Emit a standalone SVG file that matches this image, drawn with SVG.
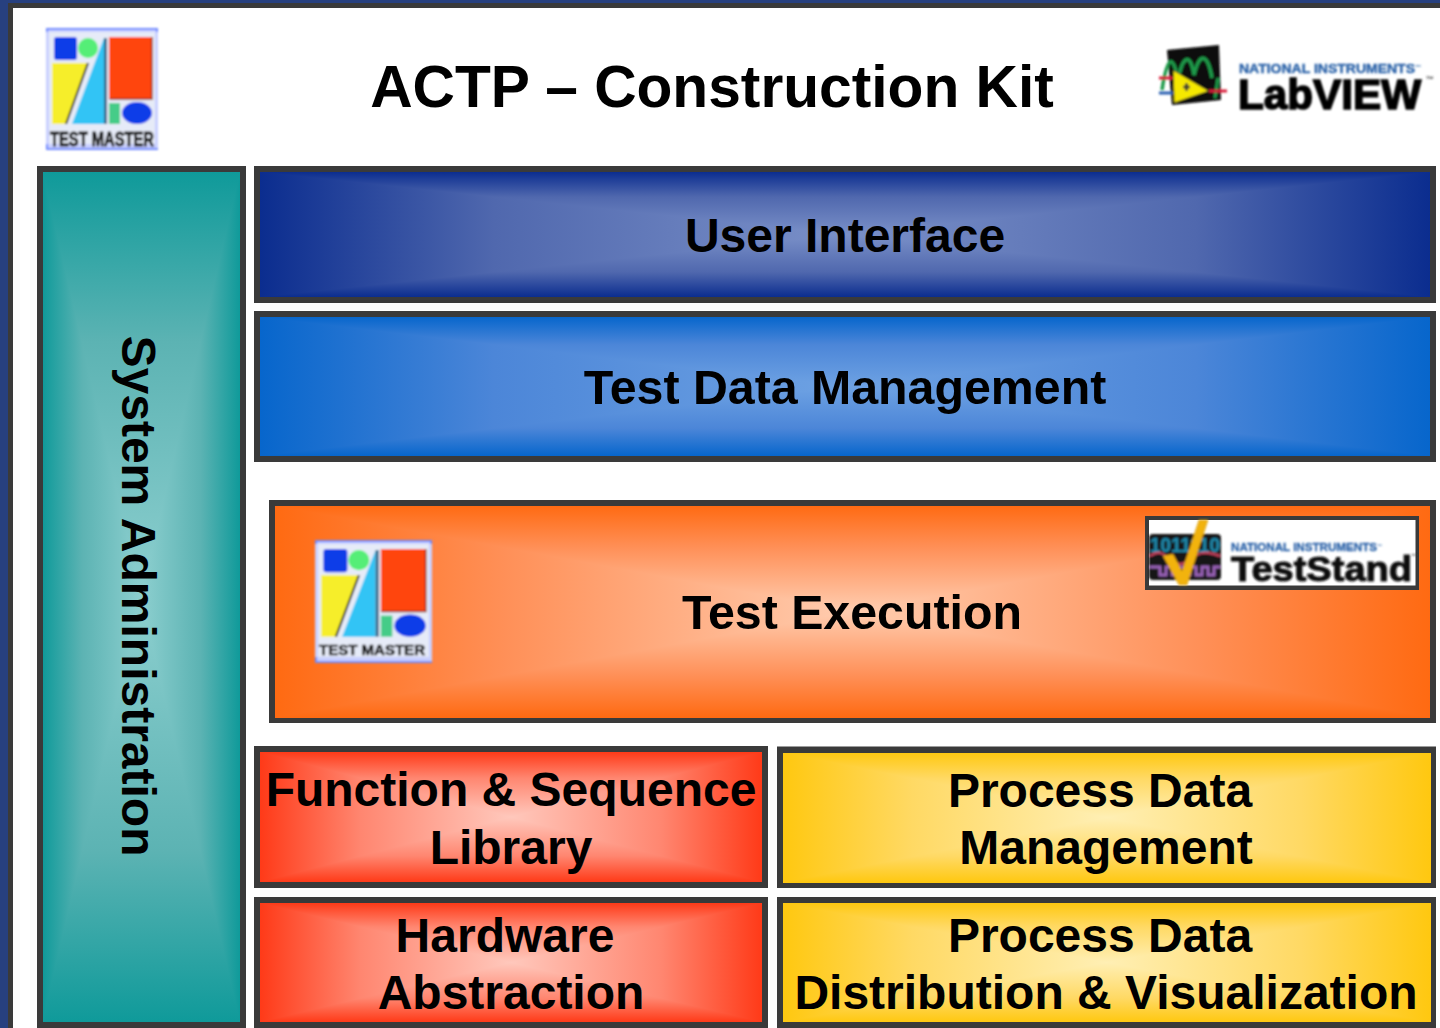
<svg xmlns="http://www.w3.org/2000/svg" width="1440" height="1028" viewBox="0 0 1440 1028">
<style>
.lbl{font-family:"Liberation Sans",Arial,sans-serif;font-weight:700;fill:#000;text-anchor:middle;font-size:48px}
.frame{fill:#3a3a3a}
.lg{font-family:"Liberation Sans",Arial,sans-serif;font-weight:700}
</style>
<defs>
<filter id="soft" x="-5%" y="-5%" width="110%" height="110%"><feGaussianBlur stdDeviation="0.8"/></filter>
<linearGradient id="ui-v" x1="0" y1="0" x2="0" y2="1"><stop offset="0" stop-color="#0b2d8f"/><stop offset=".4" stop-color="#5068ae"/><stop offset="1" stop-color="#7a90c8"/></linearGradient>
<linearGradient id="ui-h" x1="0" y1="0" x2="1" y2="0"><stop offset="0" stop-color="#0b2d8f"/><stop offset=".4" stop-color="#5068ae"/><stop offset="1" stop-color="#7a90c8"/></linearGradient>
<linearGradient id="td-v" x1="0" y1="0" x2="0" y2="1"><stop offset="0" stop-color="#0766cc"/><stop offset=".4" stop-color="#4c86d8"/><stop offset="1" stop-color="#6ea2e3"/></linearGradient>
<linearGradient id="td-h" x1="0" y1="0" x2="1" y2="0"><stop offset="0" stop-color="#0766cc"/><stop offset=".4" stop-color="#4c86d8"/><stop offset="1" stop-color="#6ea2e3"/></linearGradient>
<linearGradient id="or-v" x1="0" y1="0" x2="0" y2="1"><stop offset="0" stop-color="#ff6a12"/><stop offset=".4" stop-color="#ff9058"/><stop offset="1" stop-color="#ffcdb0"/></linearGradient>
<linearGradient id="or-h" x1="0" y1="0" x2="1" y2="0"><stop offset="0" stop-color="#ff6a12"/><stop offset=".4" stop-color="#ff9058"/><stop offset="1" stop-color="#ffcdb0"/></linearGradient>
<linearGradient id="rd-v" x1="0" y1="0" x2="0" y2="1"><stop offset="0" stop-color="#ff3a18"/><stop offset=".4" stop-color="#ff8670"/><stop offset="1" stop-color="#ffc8bc"/></linearGradient>
<linearGradient id="rd-h" x1="0" y1="0" x2="1" y2="0"><stop offset="0" stop-color="#ff3a18"/><stop offset=".4" stop-color="#ff8670"/><stop offset="1" stop-color="#ffc8bc"/></linearGradient>
<linearGradient id="ye-v" x1="0" y1="0" x2="0" y2="1"><stop offset="0" stop-color="#ffc810"/><stop offset=".4" stop-color="#ffd964"/><stop offset="1" stop-color="#ffefb4"/></linearGradient>
<linearGradient id="ye-h" x1="0" y1="0" x2="1" y2="0"><stop offset="0" stop-color="#ffc810"/><stop offset=".4" stop-color="#ffd964"/><stop offset="1" stop-color="#ffefb4"/></linearGradient>
<linearGradient id="te-v" x1="0" y1="0" x2="0" y2="1"><stop offset="0" stop-color="#0f9a9a"/><stop offset=".4" stop-color="#5cb3b3"/><stop offset="1" stop-color="#8dcfcf"/></linearGradient>
<linearGradient id="te-h" x1="0" y1="0" x2="1" y2="0"><stop offset="0" stop-color="#0f9a9a"/><stop offset=".4" stop-color="#5cb3b3"/><stop offset="1" stop-color="#8dcfcf"/></linearGradient>
<g id="f-ui" shape-rendering="crispEdges"><rect width="1" height="1" fill="#5068ae"/><polygon points="0,0 1,0 .5,.5" fill="url(#ui-v)"/><polygon points="0,0 1,0 .5,.5" fill="url(#ui-v)" transform="matrix(1 0 0 -1 0 1)"/><polygon points="0,0 0,1 .5,.5" fill="url(#ui-h)"/><polygon points="0,0 0,1 .5,.5" fill="url(#ui-h)" transform="matrix(-1 0 0 1 1 0)"/></g>
<g id="f-td" shape-rendering="crispEdges"><rect width="1" height="1" fill="#4c86d8"/><polygon points="0,0 1,0 .5,.5" fill="url(#td-v)"/><polygon points="0,0 1,0 .5,.5" fill="url(#td-v)" transform="matrix(1 0 0 -1 0 1)"/><polygon points="0,0 0,1 .5,.5" fill="url(#td-h)"/><polygon points="0,0 0,1 .5,.5" fill="url(#td-h)" transform="matrix(-1 0 0 1 1 0)"/></g>
<g id="f-or" shape-rendering="crispEdges"><rect width="1" height="1" fill="#ff9058"/><polygon points="0,0 1,0 .5,.5" fill="url(#or-v)"/><polygon points="0,0 1,0 .5,.5" fill="url(#or-v)" transform="matrix(1 0 0 -1 0 1)"/><polygon points="0,0 0,1 .5,.5" fill="url(#or-h)"/><polygon points="0,0 0,1 .5,.5" fill="url(#or-h)" transform="matrix(-1 0 0 1 1 0)"/></g>
<g id="f-rd" shape-rendering="crispEdges"><rect width="1" height="1" fill="#ff8670"/><polygon points="0,0 1,0 .5,.5" fill="url(#rd-v)"/><polygon points="0,0 1,0 .5,.5" fill="url(#rd-v)" transform="matrix(1 0 0 -1 0 1)"/><polygon points="0,0 0,1 .5,.5" fill="url(#rd-h)"/><polygon points="0,0 0,1 .5,.5" fill="url(#rd-h)" transform="matrix(-1 0 0 1 1 0)"/></g>
<g id="f-ye" shape-rendering="crispEdges"><rect width="1" height="1" fill="#ffd964"/><polygon points="0,0 1,0 .5,.5" fill="url(#ye-v)"/><polygon points="0,0 1,0 .5,.5" fill="url(#ye-v)" transform="matrix(1 0 0 -1 0 1)"/><polygon points="0,0 0,1 .5,.5" fill="url(#ye-h)"/><polygon points="0,0 0,1 .5,.5" fill="url(#ye-h)" transform="matrix(-1 0 0 1 1 0)"/></g>
<g id="f-te" shape-rendering="crispEdges"><rect width="1" height="1" fill="#5cb3b3"/><polygon points="0,0 1,0 .5,.5" fill="url(#te-v)"/><polygon points="0,0 1,0 .5,.5" fill="url(#te-v)" transform="matrix(1 0 0 -1 0 1)"/><polygon points="0,0 0,1 .5,.5" fill="url(#te-h)"/><polygon points="0,0 0,1 .5,.5" fill="url(#te-h)" transform="matrix(-1 0 0 1 1 0)"/></g>
<g id="tm-shapes">
<rect x="0" y="0" width="112" height="122" fill="#c9d0ff"/>
<rect x="3" y="4" width="106" height="112" fill="#e6ebf8"/>
<path d="M0 1H112M1 0V4M111 0V4M1 116V122M0 121H112" fill="none" stroke="#6f8bff" stroke-width="2"/>
<rect x="8" y="9" width="23" height="23" rx="3" fill="#0a3ce8"/>
<circle cx="42" cy="20" r="10" fill="#55ee77"/>
<polygon points="6,35 42,35 20,96 6,96" fill="#f6ee2a"/>
<polyline points="42,35 20,96" fill="none" stroke="#222" stroke-width="2"/>
<polygon points="26,96 58,10 58,96" fill="#33c4f5"/>
<rect x="58" y="10" width="3" height="86" fill="#3a6a8a"/>
<rect x="63" y="9" width="43" height="62" fill="#ff4410"/>
<path d="M63.500 71H106V9" fill="none" stroke="#8a3018" stroke-width="1.500"/>
<rect x="63" y="75" width="11" height="21" fill="#44cc88"/>
<ellipse cx="91" cy="85" rx="15" ry="11" fill="#0a3ce8"/>
</g>
</defs>

<rect id="background" width="1440" height="1028" fill="#fff"/>
<g id="page-frame">
<rect width="1440" height="3" fill="#27407f"/><rect width="8" height="1028" fill="#27407f"/>
<rect x="8" y="3" width="1432" height="5" class="frame"/><rect x="8" y="3" width="5" height="1025" class="frame"/>
</g>

<g id="logo-testmaster-top" filter="url(#soft)">
<use href="#tm-shapes" transform="translate(46,28)"/>
<text class="lg" x="102" y="146" text-anchor="middle" font-size="20" textLength="104" lengthAdjust="spacingAndGlyphs" fill="#111" stroke="#111" stroke-width=".8">TEST MASTER</text>
</g>

<text id="title" class="lbl" x="712" y="107" style="font-size:58.700px">ACTP – Construction Kit</text>

<g id="logo-labview" filter="url(#soft)">
<polygon points="1167,50 1219,45 1221,100 1172,105" fill="#0a0a0a"/>
<path d="M1162 90C1168 50 1174 58 1178 80C1182 58 1190 50 1194 75C1200 50 1208 55 1212 78" fill="none" stroke="#1f9a4a" stroke-width="3.500"/>
<path d="M1218 78L1215 98" fill="none" stroke="#1f9a4a" stroke-width="3"/>
<polygon points="1173,70 1209,91 1174,103" fill="#f5e800" stroke="#222" stroke-width="1"/>
<path d="M1159 78H1173M1209 91H1227" fill="none" stroke="#d81e3a" stroke-width="3"/>
<path d="M1159 93H1173" fill="none" stroke="#2a5fb0" stroke-width="3"/>
<path d="M1183 87H1190M1186.500 83V91" stroke="#333" stroke-width="2.500"/>
<text class="lg" x="1239" y="73" font-size="13" textLength="176" lengthAdjust="spacingAndGlyphs" fill="#2a62a8" stroke="#2a62a8" stroke-width=".4">NATIONAL INSTRUMENTS</text>
<text class="lg" x="1415" y="69" font-size="6" fill="#2a62a8">™</text>
<text class="lg" x="1238" y="109" font-size="43" textLength="183" lengthAdjust="spacingAndGlyphs" fill="#000" stroke="#000" stroke-width="1.600">LabVIEW</text>
<text class="lg" x="1426" y="82" font-size="8" fill="#333">™</text>
</g>

<g id="system-administration">
<rect class="frame" x="37" y="166" width="209" height="862"/>
<use href="#f-te" transform="translate(42.500,172) scale(197.500,850)"/>
<text class="lbl" transform="translate(122,596) rotate(90)" style="font-size:48px">System Administration</text>
</g>

<g id="user-interface">
<rect class="frame" x="254" y="166" width="1182" height="137"/>
<use href="#f-ui" transform="translate(260,172) scale(1170,125)"/>
<text class="lbl" x="845" y="252">User Interface</text>
</g>

<g id="test-data-management">
<rect class="frame" x="254" y="311" width="1182" height="151"/>
<use href="#f-td" transform="translate(260,317) scale(1170,139)"/>
<text class="lbl" x="845" y="404" style="font-size:48.300px">Test Data Management</text>
</g>

<g id="test-execution">
<rect class="frame" x="269" y="500" width="1167" height="223"/>
<use href="#f-or" transform="translate(275,505.500) scale(1155,212)"/>
<text class="lbl" x="852" y="629" style="font-size:48.300px">Test Execution</text>
<g id="logo-testmaster-inner" filter="url(#soft)">
<use href="#tm-shapes" transform="translate(315,540) scale(1.045,1.008)"/>
<text class="lg" x="372" y="655" text-anchor="middle" font-size="15" textLength="106" lengthAdjust="spacingAndGlyphs" fill="#111" stroke="#111" stroke-width=".6">TEST MASTER</text>
</g>
<g id="logo-teststand">
<rect class="frame" x="1145" y="516" width="274" height="74"/>
<rect x="1149" y="520" width="266.500" height="65.500" fill="#fff"/>
<g filter="url(#soft)">
<rect x="1149" y="534" width="72" height="46" rx="4" fill="#141414"/>
<text class="lg" x="1150" y="552" font-size="20" textLength="70" lengthAdjust="spacingAndGlyphs" fill="#1c86a8" stroke="#1c86a8" stroke-width=".5">1011110</text>
<path d="M1150 556C1158 551 1162 552 1168 558C1176 566 1184 566 1192 558C1200 551 1208 552 1220 556" fill="none" stroke="#c0405a" stroke-width="2.500"/>
<path d="M1150 567H1160V575H1166V567H1172V575H1178V567H1184V575H1190V567H1196V575H1202V567H1208V575H1214V567H1220" fill="none" stroke="#9a62b8" stroke-width="3"/>
<polygon points="1163,556 1173,554 1182,571 1199,520 1208,520 1187,585 1179,585" fill="#f2b310" stroke="#c98a00" stroke-width=".5"/>
<text class="lg" x="1231" y="551" font-size="11" textLength="146" lengthAdjust="spacingAndGlyphs" fill="#2a62a8" stroke="#2a62a8" stroke-width=".3">NATIONAL INSTRUMENTS</text>
<text class="lg" x="1377" y="548" font-size="5" fill="#2a62a8">™</text>
<text class="lg" x="1231" y="581" font-size="35" textLength="181" lengthAdjust="spacingAndGlyphs" fill="#111" stroke="#111" stroke-width="1">TestStand</text>
<text class="lg" x="1411" y="558" font-size="6" fill="#333">™</text>
</g>
</g>
</g>

<g id="function-sequence-library">
<rect class="frame" x="254" y="746" width="514" height="142"/>
<use href="#f-rd" transform="translate(260,752) scale(502,130)"/>
<text class="lbl" x="511" y="806">Function &amp; Sequence</text>
<text class="lbl" x="511" y="864">Library</text>
</g>

<g id="hardware-abstraction">
<rect class="frame" x="254" y="897" width="514" height="131"/>
<use href="#f-rd" transform="translate(260,903) scale(502,119)"/>
<text class="lbl" x="505" y="952">Hardware</text>
<text class="lbl" x="511" y="1009">Abstraction</text>
</g>

<g id="process-data-management">
<rect class="frame" x="777" y="746.500" width="659" height="141.500"/>
<use href="#f-ye" transform="translate(783,752.500) scale(647.500,130)"/>
<text class="lbl" x="1100" y="807">Process Data</text>
<text class="lbl" x="1106" y="864">Management</text>
</g>

<g id="process-data-distribution">
<rect class="frame" x="777" y="897" width="659" height="131"/>
<use href="#f-ye" transform="translate(783,903) scale(647.500,119)"/>
<text class="lbl" x="1100" y="952">Process Data</text>
<text class="lbl" x="1106" y="1009">Distribution &amp; Visualization</text>
</g>
</svg>
